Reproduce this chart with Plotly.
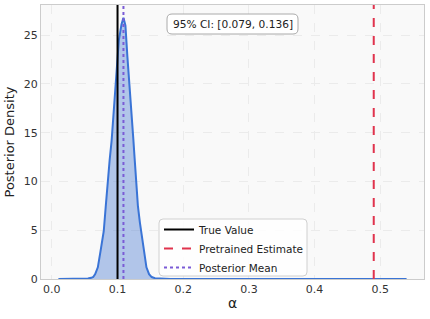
import plotly.graph_objects as go

# Posterior density
alpha_grid = [0.010, 0.040, 0.050, 0.055, 0.060, 0.063, 0.066, 0.070, 0.074, 0.079, 0.082, 0.085,
              0.088, 0.091, 0.094, 0.097, 0.100, 0.102, 0.104, 0.106, 0.109, 0.112, 0.115,
              0.118, 0.121, 0.124, 0.126, 0.128, 0.131, 0.134, 0.137, 0.140, 0.144, 0.148,
              0.152, 0.157, 0.162, 0.166, 0.170, 0.180, 0.200, 0.300, 0.400, 0.540]
density = [0.0, 0.0, 0.02, 0.05, 0.12, 0.2, 0.5, 1.2, 2.8, 4.9, 7.4, 10.1,
           12.2, 14.2, 17.0, 20.1, 22.8, 24.5, 25.3, 26.1, 26.8, 26.0, 22.8,
           19.6, 16.5, 14.4, 12.4, 10.0, 7.5, 5.8, 4.3, 2.8, 1.2, 0.5,
           0.2, 0.08, 0.05, 0.09, 0.05, 0.01, 0.0, 0.0, 0.0, 0.0]

true_value = 0.1
pretrained_estimate = 0.49
posterior_mean = 0.109
ci_text = "95% CI: [0.079, 0.136]"
legend_names = ["True Value", "Pretrained Estimate", "Posterior Mean"]
x_ticks = [0.0, 0.1, 0.2, 0.3, 0.4, 0.5]
y_ticks = [0, 5, 10, 15, 20, 25]

y_top = 28.1
font = "DejaVu Sans"

W, H = 430, 319
ML, MR, MT, MB = 41, 6, 5, 40
PW, PH = W - ML - MR, H - MT - MB


def px_to_paper(px, py):
    return (px - ML) / PW, (H - MB - py) / PH


def rounded_rect(x0, y0, x1, y1, r=4):
    # pixel coordinates -> paper path with rounded corners
    ax0, ay0 = px_to_paper(x0, y1)
    ax1, ay1 = px_to_paper(x1, y0)
    rx, ry = r / PW, r / PH
    return (f"M {ax0+rx},{ay0} L {ax1-rx},{ay0} Q {ax1},{ay0} {ax1},{ay0+ry} "
            f"L {ax1},{ay1-ry} Q {ax1},{ay1} {ax1-rx},{ay1} L {ax0+rx},{ay1} "
            f"Q {ax0},{ay1} {ax0},{ay1-ry} L {ax0},{ay0+ry} Q {ax0},{ay0} {ax0+rx},{ay0} Z")


fig = go.Figure()
fig.add_trace(go.Scatter(x=alpha_grid, y=density, mode="lines", fill="tozeroy",
                         fillcolor="rgba(70,120,210,0.40)",
                         line=dict(color="#3a74d6", width=2), showlegend=False))
fig.add_trace(go.Scatter(x=[true_value, true_value], y=[0, y_top], mode="lines",
                         line=dict(color="black", width=2), name=legend_names[0]))
fig.add_trace(go.Scatter(x=[pretrained_estimate, pretrained_estimate], y=[0, y_top], mode="lines",
                         line=dict(color="#e0334d", width=2, dash="dash"), name=legend_names[1]))
fig.add_trace(go.Scatter(x=[posterior_mean, posterior_mean], y=[0, y_top], mode="lines",
                         line=dict(color="#7a5bd6", width=2, dash="dot"), name=legend_names[2]))

# CI box
fig.add_shape(type="path", xref="paper", yref="paper", path=rounded_rect(167, 14, 298, 34, 5),
              fillcolor="white", line=dict(color="#aaaaaa", width=1), layer="above")
cx, cy = px_to_paper(232.5, 24)
fig.add_annotation(x=cx, y=cy, xref="paper", yref="paper", text=ci_text, showarrow=False,
                   xanchor="center", yanchor="middle",
                   font=dict(family=font, size=10.6, color="#222"))

# legend frame (rounded)
fig.add_shape(type="path", xref="paper", yref="paper", path=rounded_rect(159, 219, 307, 276, 4),
              fillcolor="rgba(255,255,255,0.85)", line=dict(color="#d0d0d0", width=1), layer="above")

lx, ly = px_to_paper(159, 215)
fig.update_layout(
    width=W, height=H,
    margin=dict(l=ML, r=MR, t=MT, b=MB),
    paper_bgcolor="white", plot_bgcolor="#f9f9f9",
    font=dict(family=font, size=11, color="#333"),
    legend=dict(x=lx, y=ly, xanchor="left", yanchor="top",
                bgcolor="rgba(0,0,0,0)", borderwidth=0,
                font=dict(family=font, size=10.5, color="#222"), tracegroupgap=0,
                itemwidth=30),
)
fig.update_xaxes(range=[-0.0165, 0.5665], tickvals=x_ticks, tickformat=".1f", automargin=False,
                 showgrid=True, gridcolor="#ebebeb", griddash="dash", zeroline=False,
                 showline=True, linecolor="#cccccc", mirror=True, ticks="",
                 title=dict(text="α", font=dict(size=14, color="#222"), standoff=2))
fig.update_yaxes(range=[0, y_top], tickvals=y_ticks, automargin=False,
                 showgrid=True, gridcolor="#ebebeb", griddash="dash", zeroline=False,
                 showline=True, linecolor="#cccccc", mirror=True, ticks="",
                 title=dict(text="Posterior Density", font=dict(size=13, color="#222"), standoff=6))

fig.write_html("out.html", config={"displayModeBar": False},
               post_script="document.body.style.margin='0';")
